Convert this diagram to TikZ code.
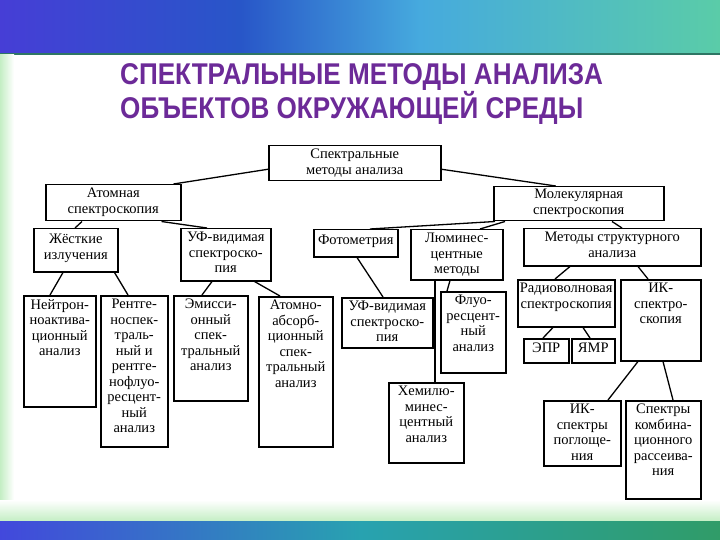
\documentclass[tikz,border=0pt]{standalone}
\usepackage{fontspec}
\setmainfont{Liberation Serif}
\newfontfamily\titlefont[FakeStretch=0.87]{Liberation Sans Bold}
\definecolor{ttlpurple}{RGB}{108,42,152}
\definecolor{bandblue}{RGB}{70,62,214}
\definecolor{banddeep}{RGB}{40,86,200}
\definecolor{bandcyan}{RGB}{70,170,222}
\definecolor{bandgreen}{RGB}{90,204,168}
\definecolor{bandline}{RGB}{46,118,100}
\definecolor{edgegreen}{RGB}{196,238,196}
\definecolor{lowblue}{RGB}{66,72,220}
\definecolor{lowteal}{RGB}{40,162,176}
\definecolor{lowgreen}{RGB}{48,156,104}

\begin{document}
\begin{tikzpicture}[x=1pt, y=-1pt,
  blk/.style={draw, shape=rectangle, line width=1.5pt, anchor=north west, inner sep=0pt},
  lbl/.style={anchor=north, align=center, inner sep=0pt, yshift=-4pt, text=black, font=\fontsize{14.5}{15.5}\selectfont},
  con/.style={line width=1.3pt}]
\useasboundingbox (0,0) rectangle (720,540);
\fill[white] (0,0) rectangle (720,540);
\shade[left color=bandblue, right color=banddeep] (0,0) rectangle (240,54);
\shade[left color=banddeep, right color=bandcyan] (240,0) rectangle (420,54);
\shade[left color=bandcyan, right color=bandgreen] (420,0) rectangle (720,54);
\draw[line width=1.5pt, bandline] (0,54) -- (720,54);
\shade[left color=edgegreen, right color=white] (0,55) rectangle (14,520);
\shade[top color=white, bottom color=edgegreen] (0,500) rectangle (720,521);
\shade[left color=lowblue, right color=lowteal] (0,521) rectangle (360,540);
\shade[left color=lowteal, right color=lowgreen] (360,521) rectangle (720,540);
\node[anchor=north west, inner sep=0pt, align=left, text=ttlpurple, font=\titlefont\fontsize{30}{29}\selectfont] (ttl) at (120,63) {СПЕКТРАЛЬНЫЕ МЕТОДЫ АНАЛИЗА\\ОБЪЕКТОВ ОКРУЖАЮЩЕЙ СРЕДЫ};
\node[blk, minimum width=172pt, minimum height=35pt, label={[lbl]north:{Спектральные\\методы анализа}}] (spec) at (268,145) {};
\node[blk, minimum width=135pt, minimum height=36pt, label={[lbl]north:{Атомная\\спектроскопия}}] (atom) at (45,184) {};
\node[blk, minimum width=170pt, minimum height=34pt, label={[lbl, yshift=1pt]north:{Молекулярная\\спектроскопия}}] (mol) at (493,186) {};
\node[blk, minimum width=84pt, minimum height=43pt, label={[lbl, yshift=-2pt]north:{Жёсткие\\излучения}}] (hard) at (33,228) {};
\node[blk, minimum width=90pt, minimum height=52pt, label={[lbl]north:{УФ-видимая\\спектроско-\\пия}}] (uva) at (180,228) {};
\node[blk, minimum width=84pt, minimum height=27pt, label={[lbl, yshift=-2pt]north:{Фотометрия}}] (phot) at (313,229) {};
\node[blk, minimum width=92pt, minimum height=50pt, label={[lbl]north:{Люминес-\\центные\\методы}}] (lum) at (410,229) {};
\node[blk, minimum width=177pt, minimum height=37pt, label={[lbl]north:{Методы структурного\\анализа}}] (struct) at (523,228) {};
\node[blk, minimum width=72pt, minimum height=111pt, label={[lbl]north:{Нейтрон-\\ноактива-\\ционный\\анализ}}] (neut) at (23,295) {};
\node[blk, minimum width=67pt, minimum height=151pt, label={[lbl]north:{Рентге-\\носпек-\\траль-\\ный и\\рентге-\\нофлуо-\\ресцент-\\ный\\анализ}}] (xray) at (100,295) {};
\node[blk, minimum width=74pt, minimum height=105pt, label={[lbl]north:{Эмисси-\\онный\\спек-\\тральный\\анализ}}] (emis) at (173,295) {};
\node[blk, minimum width=74pt, minimum height=150pt, label={[lbl]north:{Атомно-\\абсорб-\\ционный\\спек-\\тральный\\анализ}}] (aas) at (258,296) {};
\node[blk, minimum width=91pt, minimum height=50pt, label={[lbl]north:{УФ-видимая\\спектроско-\\пия}}] (uvm) at (341,297) {};
\node[blk, minimum width=65pt, minimum height=81pt, label={[lbl]north:{Флуо-\\ресцент-\\ный\\анализ}}] (fluo) at (440,291) {};
\node[blk, minimum width=75pt, minimum height=80pt, label={[lbl]north:{Хемилю-\\минес-\\центный\\анализ}}] (chem) at (388,382) {};
\node[blk, minimum width=97pt, minimum height=47pt, label={[lbl]north:{Радиоволновая\\спектроскопия}}] (radio) at (517,279) {};
\node[blk, minimum width=80pt, minimum height=81pt, label={[lbl]north:{ИК-\\спектро-\\скопия}}] (ir) at (620,279) {};
\node[blk, minimum width=45pt, minimum height=24pt, label={[lbl, yshift=-1pt]north:{ЭПР}}] (epr) at (523,338) {};
\node[blk, minimum width=43pt, minimum height=24pt, label={[lbl, yshift=-1pt]north:{ЯМР}}] (nmr) at (571,338) {};
\node[blk, minimum width=77pt, minimum height=65pt, label={[lbl]north:{ИК-\\спектры\\поглоще-\\ния}}] (irabs) at (543,400) {};
\node[blk, minimum width=75pt, minimum height=98pt, label={[lbl]north:{Спектры\\комбина-\\ционного\\рассеива-\\ния}}] (raman) at (625,400) {};
\draw[con] ([yshift=-6pt] spec.west) -- ([xshift=-8pt] atom.north east);
\draw[con] ([yshift=-6pt] spec.east) -- ([xshift=-23pt] mol.north);
\draw[con] ([xshift=37pt] atom.south west) -- ([xshift=42pt] hard.north west);
\draw[con] ([xshift=-20pt] atom.south east) -- ([xshift=27pt] uva.north west);
\draw[con] ([xshift=2pt] mol.south west) -- ([xshift=57pt] phot.north west);
\draw[con] ([xshift=12pt] mol.south west) -- ([xshift=70pt] lum.north west);
\draw[con] ([xshift=119pt] mol.south west) -- ([xshift=99pt] struct.north west);
\draw[con] ([xshift=30pt] hard.south west) -- ([xshift=27pt] neut.north west);
\draw[con] ([xshift=-4pt] hard.south east) -- ([xshift=28pt] xray.north west);
\draw[con] ([xshift=32pt] uva.south west) -- ([xshift=29pt] emis.north west);
\draw[con] ([xshift=-17pt] uva.south east) -- ([xshift=22pt] aas.north west);
\draw[con] ([xshift=44pt] phot.south west) -- ([xshift=42pt] uvm.north west);
\draw[con] ([xshift=40pt] lum.south west) -- ([xshift=7pt] fluo.north west);
\draw[con] ([xshift=25pt] lum.south west) -- ([xshift=47pt] chem.north west);
\draw[con] ([xshift=47pt] struct.south west) -- ([xshift=38pt] radio.north west);
\draw[con] ([xshift=115pt] struct.south west) -- ([xshift=28pt] ir.north west);
\draw[con] ([xshift=36pt] radio.south west) -- ([xshift=20pt] epr.north west);
\draw[con] ([xshift=66pt] radio.south west) -- ([xshift=19pt] nmr.north west);
\draw[con] ([xshift=18pt] ir.south west) -- ([xshift=65pt] irabs.north west);
\draw[con] ([xshift=43pt] ir.south west) -- ([xshift=48pt] raman.north west);
\end{tikzpicture}
\end{document}
